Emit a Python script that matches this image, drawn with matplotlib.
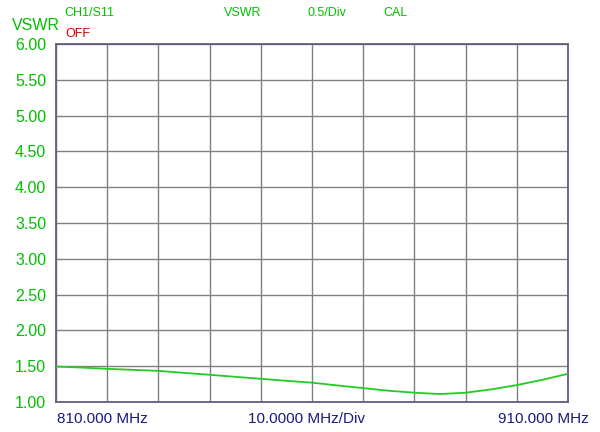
import matplotlib
matplotlib.use("Agg")
import matplotlib.pyplot as plt

freq_mhz = [810, 815, 820, 825, 830, 835, 840, 845, 850, 855, 860, 865, 870, 875, 880, 885, 890, 895, 900, 905, 910]
vswr = [1.495, 1.481, 1.463, 1.449, 1.435, 1.407, 1.38, 1.352, 1.324, 1.296, 1.27, 1.231, 1.194, 1.157, 1.13, 1.111, 1.13, 1.176, 1.236, 1.31, 1.394]
y_ticks = [1.00, 1.50, 2.00, 2.50, 3.00, 3.50, 4.00, 4.50, 5.00, 5.50, 6.00]
x_start_label = "810.000 MHz"
x_div_label = "10.0000 MHz/Div"
x_stop_label = "910.000 MHz"

plt.rcParams['font.family'] = ['Liberation Sans', 'DejaVu Sans']
green = '#00c000'
navy = '#1a1a80'

fig = plt.figure(figsize=(6, 4.32), dpi=100)
ax = fig.add_axes([56/600, 1-402/432, 512/600, 358/432])
ax.plot(freq_mhz, vswr, color='#22cc22', lw=1.3, zorder=3)
ax.set_xlim(810, 910)
ax.set_ylim(1.0, 6.0)
ax.set_xticks(range(810, 911, 10))
ax.set_yticks(y_ticks)
ax.set_yticklabels([f"{v:.2f}" for v in y_ticks], color=green, fontsize=11.5)
ax.tick_params(axis='x', length=0, labelbottom=False)
ax.tick_params(axis='y', length=0, pad=7)
ax.grid(True, color='#808080', lw=1.0)
for s in ax.spines.values():
    s.set_color('#606080')
    s.set_linewidth(1.3)

fig.text(12/600, 1-30/432, "VSWR", color=green, fontsize=11.5, va='baseline', ha='left')
fig.text(64/600, 1-16/432, "CH1/S11", color=green, fontsize=9, va='baseline', ha='left')
fig.text(65/600, 1-37/432, "OFF", color='#d00000', fontsize=9, va='baseline', ha='left')
fig.text(224/600, 1-16/432, "VSWR", color=green, fontsize=9, va='baseline', ha='left')
fig.text(307/600, 1-16/432, "0.5/Div", color=green, fontsize=9, va='baseline', ha='left')
fig.text(383/600, 1-16/432, "CAL", color=green, fontsize=9, va='baseline', ha='left')
fig.text(57/600, 1-423/432, x_start_label, color=navy, fontsize=11, va='baseline', ha='left')
fig.text(306/600, 1-423/432, x_div_label, color=navy, fontsize=11, va='baseline', ha='center')
fig.text(589/600, 1-423/432, x_stop_label, color=navy, fontsize=11, va='baseline', ha='right')

fig.savefig("out.png", dpi=100)
